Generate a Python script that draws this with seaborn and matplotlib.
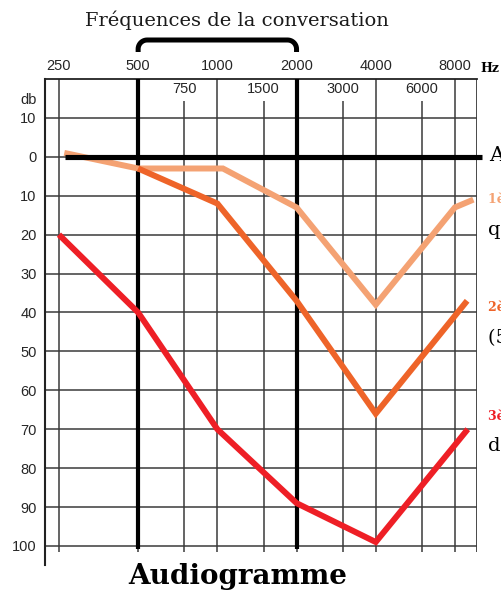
import numpy as np
import pandas as pd
import matplotlib.pyplot as plt
from matplotlib.lines import Line2D
from matplotlib.ticker import NullLocator
import seaborn as sns

# Frequencies (Hz) and hearing levels (dB)
freq_major = [250, 500, 1000, 2000, 4000, 8000]
freq_major_labels = ['250', '500', '1000', '2000', '4000', '8000']
freq_minor = [750, 1500, 3000, 6000]
freq_minor_labels = ['750', '1500', '3000', '6000']
db_ticks = [-10, 0, 10, 20, 30, 40, 50, 60, 70, 80, 90, 100]
db_labels = ['10', '0', '10', '20', '30', '40', '50', '60', '70', '80', '90', '100']

# Curves
freq_light = [262, 500, 1050, 2000, 4000, 8000, 9400]
db_light = [-1, 3, 3, 13, 38, 13, 11]
freq_mid = [500, 1000, 2000, 4000, 8900]
db_mid = [3, 12, 37, 66, 37]
freq_red = [250, 500, 1000, 2000, 4000, 8950]
db_red = [20, 40, 70, 89, 99, 70]

# Conversation frequencies
conv_freqs = [500, 2000]

c_light = '#F4A273'
c_mid = '#EE6429'
c_red = '#EE1F26'
grid_c = '#3a3a3a'
lab_c = '#262626'

sns.set_style('white')
plt.rcParams['font.family'] = ['Liberation Sans', 'DejaVu Sans']

W, H = 502, 593
fig = plt.figure(figsize=(W / 100, H / 100), dpi=100)
ax = fig.add_axes([45 / W, 1 - 565 / H, 432 / W, 486 / H])

ax.set_xscale('log', base=2)
xmin, xmax = 221.3, 9704
ymin, ymax = -20, 104.9
ax.set_xlim(xmin, xmax)
ax.set_ylim(ymax, ymin)

# grid
ax.hlines(db_ticks, xmin, xmax, color=grid_c, lw=1.1, zorder=1)
ax.vlines(freq_major, ymin, 101.5, color=grid_c, lw=1.1, zorder=1)
ax.vlines(freq_minor, -14.4, 101.5, color=grid_c, lw=1.1, zorder=1)
ax.vlines([xmax], ymin, 101.5, color=grid_c, lw=1.3, zorder=1)

# thick conversation limits
ax.vlines(conv_freqs, ymin, 100.8, color='black', lw=3.0, zorder=3)

# curves
sns.lineplot(x=freq_light, y=db_light, color=c_light, lw=4.3, ax=ax, zorder=4,
             solid_joinstyle='miter', solid_capstyle='butt')
sns.lineplot(x=freq_mid, y=db_mid, color=c_mid, lw=4.3, ax=ax, zorder=4,
             solid_joinstyle='miter', solid_capstyle='butt')
sns.lineplot(x=freq_red, y=db_red, color=c_red, lw=4.3, ax=ax, zorder=4,
             solid_joinstyle='miter', solid_capstyle='butt')

# normal hearing line
ax.plot([263, 10160], [0, 0], color='black', lw=3.7, zorder=5,
        clip_on=False, solid_capstyle='butt')

# ticks
ax.xaxis.tick_top()
ax.set_xticks(freq_major, labels=freq_major_labels)
ax.xaxis.set_minor_locator(NullLocator())
ax.tick_params(axis='x', length=0, pad=4, labelsize=10.5, labelcolor=lab_c)
for f, lab in zip(freq_minor, freq_minor_labels):
    ax.text(f, -17.4, lab, ha='center', va='center', fontsize=10.5, color=lab_c)
ax.set_yticks(db_ticks, labels=db_labels)
ax.tick_params(axis='y', length=0, pad=6, labelsize=10.5, labelcolor=lab_c)
ax.set_xlabel('')
ax.set_ylabel('')

for s in ['right', 'bottom']:
    ax.spines[s].set_visible(False)
ax.spines['left'].set_color('#222222')
ax.spines['left'].set_linewidth(1.5)
ax.spines['top'].set_color('#222222')
ax.spines['top'].set_linewidth(1.3)

fig.text(37 / W, 1 - 100 / H, 'db', ha='right', va='center', fontsize=10.5, color=lab_c)
fig.text(480 / W, 1 - 69 / H, 'Hz', ha='left', va='center', fontsize=9,
         fontweight='bold', family='DejaVu Serif', color='black')

# bracket above conversation frequencies
x0 = ax.transData.transform((conv_freqs[0], 0))[0]
x1 = ax.transData.transform((conv_freqs[1], 0))[0]
r = 9
ytop, ybot = 40, 52
t = np.linspace(np.pi, np.pi / 2, 12)
left_arc = [(x0 + r + r * np.cos(a), ytop + r - r * np.sin(a)) for a in t]
t2 = np.linspace(np.pi / 2, 0, 12)
right_arc = [(x1 - r + r * np.cos(a), ytop + r - r * np.sin(a)) for a in t2]
pts = [(x0, ybot)] + left_arc + right_arc + [(x1, ybot)]
bx = [p[0] / W for p in pts]
by = [1 - p[1] / H for p in pts]
fig.add_artist(Line2D(bx, by, transform=fig.transFigure, color='black', lw=3.6,
                      solid_capstyle='butt', solid_joinstyle='round'))

serif = 'DejaVu Serif'
fig.text(237 / W, 1 - 20 / H, 'Fréquences de la conversation', ha='center', va='center',
         fontsize=14, family=serif, color='#1a1a1a')
fig.text(238 / W, 1 - 577 / H, 'Audiogramme', ha='center', va='center',
         fontsize=20, fontweight='bold', family=serif, color='black')

# side legend (cut at the figure edge, as in the original)
fig.text(489 / W, 1 - 155 / H, 'Audition normale', ha='left', va='center',
         fontsize=15, family=serif, color='black')
fig.text(488 / W, 1 - 199 / H, '1ère catégorie : surdité légère', ha='left', va='center',
         fontsize=9, fontweight='bold', color=c_light, family=serif)
fig.text(488 / W, 1 - 229 / H, 'quelques mots échappent', ha='left', va='center',
         fontsize=14, family=serif, color='black')
fig.text(488 / W, 1 - 307 / H, '2ème catégorie : surdité moyenne', ha='left', va='center',
         fontsize=9, fontweight='bold', color=c_mid, family=serif)
fig.text(488 / W, 1 - 338 / H, '(50 % des mots perçus)', ha='left', va='center',
         fontsize=14, family=serif, color='black')
fig.text(488 / W, 1 - 416 / H, '3ème catégorie : surdité sévère', ha='left', va='center',
         fontsize=9, fontweight='bold', color=c_red, family=serif)
fig.text(488 / W, 1 - 446 / H, 'de rares mots perçus', ha='left', va='center',
         fontsize=14, family=serif, color='black')

fig.savefig('out.png', dpi=100)
